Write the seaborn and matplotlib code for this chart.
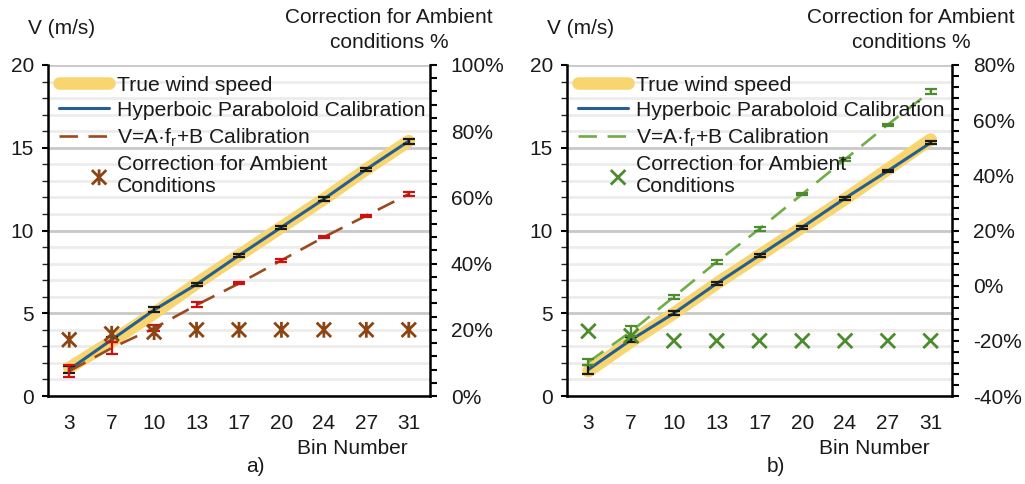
import numpy as np
import pandas as pd
import matplotlib
matplotlib.use("Agg")
import matplotlib.pyplot as plt
import seaborn as sns
from matplotlib.ticker import MultipleLocator, PercentFormatter
from matplotlib.path import Path
from matplotlib.legend_handler import HandlerPathCollection

# ---------------- data ----------------
bins = ['3', '7', '10', '13', '17', '20', '24', '27', '31']

true_a = [1.7, 3.3, 5.0, 6.8, 8.5, 10.2, 11.9, 13.7, 15.4]
hyp_a = [1.6, 3.4, 5.2, 6.75, 8.5, 10.2, 11.9, 13.7, 15.4]
hyp_a_err = [0.2, 0.15, 0.15, 0.1, 0.1, 0.1, 0.1, 0.1, 0.15]
lin_a = [1.5, 2.9, 4.1, 5.5, 6.8, 8.2, 9.6, 10.9, 12.2]
lin_a_err = [0.35, 0.35, 0.2, 0.15, 0.06, 0.1, 0.06, 0.06, 0.12]
corr_a = [17, 18.8, 19.3, 20, 20, 20, 20, 20, 20]

true_b = [1.5, 3.3, 5.0, 6.8, 8.5, 10.2, 11.9, 13.7, 15.5]
hyp_b = [1.6, 3.4, 5.0, 6.8, 8.5, 10.2, 11.95, 13.6, 15.3]
hyp_b_err = [0.25, 0.15, 0.12, 0.1, 0.1, 0.08, 0.08, 0.08, 0.1]
lin_b = [2.05, 3.9, 6.0, 8.1, 10.1, 12.2, 14.3, 16.4, 18.4]
lin_b_err = [0.2, 0.3, 0.12, 0.1, 0.1, 0.08, 0.08, 0.06, 0.15]
corr_b = [-16.5, -18.2, -20, -20, -20, -20, -20, -20, -20]

labels = ['True wind speed', 'Hyperboic Paraboloid Calibration',
          'V=A·f$_\\mathregular{r}$+B Calibration',
          'Correction for Ambient\nConditions']

# ---------------- style ----------------
sns.set_theme(style="white")
plt.rcParams['font.family'] = ['Liberation Sans', 'DejaVu Sans']
plt.rcParams['axes.unicode_minus'] = False
plt.rcParams['mathtext.default'] = 'regular'

FS = 15
LFS = 15.2
YELLOW = '#F8D56E'
BLUE = '#255E91'
TXT = '#1a1a1a'

# Excel-like star marker: an x plus a vertical bar
STAR = Path([(-1, -1), (1, 1), (-1, 1), (1, -1), (0, -1.1), (0, 1.1)],
            [Path.MOVETO, Path.LINETO, Path.MOVETO, Path.LINETO, Path.MOVETO, Path.LINETO])


class RightMarkerHandler(HandlerPathCollection):
    def get_xdata(self, legend, xdescent, ydescent, width, height, fontsize):
        x = [-xdescent + 0.8 * width]
        return x, x


fig = plt.figure(figsize=(10.25, 4.84), dpi=100)
W, H = 1025, 484


def panel(x0, x1, true, hyp, hyp_err, lin, lin_err, corr, lin_color, err_color,
          mk_color, marker, msize, ylim2, tag):
    ax = fig.add_axes([x0 / W, 1 - 396 / H, (x1 - x0) / W, (396 - 65) / H])
    df = pd.DataFrame({'bin': bins, 'true': true, 'hyp': hyp, 'lin': lin, 'corr': corr})

    sns.lineplot(data=df, x='bin', y='true', ax=ax, sort=False, estimator=None,
                 color=YELLOW, lw=9, solid_capstyle='round', label=labels[0], zorder=2)
    sns.lineplot(data=df, x='bin', y='hyp', ax=ax, sort=False, estimator=None,
                 color=BLUE, lw=2.2, label=labels[1], zorder=3)
    sns.lineplot(data=df, x='bin', y='lin', ax=ax, sort=False, estimator=None,
                 color=lin_color, lw=1.9, linestyle=(0, (7, 4)), label=labels[2], zorder=3)
    ax.errorbar(df['bin'], df['hyp'], yerr=hyp_err, fmt='none', ecolor=TXT,
                elinewidth=1.6, capsize=4, capthick=1.6, zorder=4)
    ax.errorbar(df['bin'], df['lin'], yerr=lin_err, fmt='none', ecolor=err_color,
                elinewidth=1.6, capsize=4, capthick=1.6, zorder=4)

    ax.set_ylim(0, 20)
    ax.set_xlim(-0.5, len(bins) - 0.5)
    ax.yaxis.set_major_locator(MultipleLocator(5))
    ax.yaxis.set_minor_locator(MultipleLocator(1))
    ax.grid(which='major', axis='y', color='#c9c9c9', lw=2)
    ax.grid(which='minor', axis='y', color='#ececec', lw=2)
    ax.set_axisbelow(True)
    ax.set_xlabel('')
    ax.set_ylabel('')
    for s in ['top', 'right']:
        ax.spines[s].set_visible(False)
    for s in ['left', 'bottom']:
        ax.spines[s].set_color('black')
        ax.spines[s].set_linewidth(1.8)
    ax.tick_params(axis='y', which='major', left=True, length=4, width=1.5,
                   color='black', labelsize=FS, pad=6, labelcolor=TXT)
    ax.tick_params(axis='y', which='minor', left=False)
    ax.tick_params(axis='x', bottom=False, labelsize=FS, pad=7, labelcolor=TXT)
    ax.legend().remove()

    ax2 = ax.twinx()
    sns.scatterplot(data=df, x='bin', y='corr', ax=ax2, marker=marker, color=mk_color,
                    s=msize, linewidth=2, label=labels[3], zorder=5)
    coll = ax2.collections[0]
    coll.set_facecolor('none')
    coll.set_edgecolor(mk_color)
    coll.set_linewidth(2)
    ax2.set_ylim(*ylim2)
    ax2.yaxis.set_major_locator(MultipleLocator(20))
    ax2.yaxis.set_minor_locator(MultipleLocator(4))
    ax2.yaxis.set_major_formatter(PercentFormatter(xmax=100, decimals=0))
    ax2.set_ylabel('')
    for s in ['top', 'left', 'bottom']:
        ax2.spines[s].set_visible(False)
    ax2.spines['right'].set_color('black')
    ax2.spines['right'].set_linewidth(1.8)
    ax2.tick_params(axis='y', which='both', right=True, length=5, width=1.5,
                    color='black', labelsize=FS, pad=10, labelcolor=TXT)
    ax2.legend().remove()

    h1, l1 = ax.get_legend_handles_labels()
    h2, l2 = ax2.get_legend_handles_labels()
    hmap = {h: RightMarkerHandler() for h in h2}
    leg = ax2.legend(h1 + h2, l1 + l2, loc='upper left', bbox_to_anchor=(0, 1),
                     frameon=False, fontsize=LFS, handlelength=2.4, handletextpad=0.35,
                     labelspacing=0.3, borderaxespad=0.3, borderpad=0.2,
                     handler_map=hmap)
    for t in leg.get_texts():
        t.set_color(TXT)

    cx = (x0 + x1) / 2
    fig.text((x0 - 20) / W, 1 - 28 / H, 'V (m/s)', fontsize=FS, ha='left', va='center',
             color=TXT)
    fig.text((x1 - 41) / W, 1 - 30 / H, 'Correction for Ambient\nconditions %', fontsize=FS,
             ha='center', va='center', color=TXT, linespacing=1.35)
    fig.text((x1 - 22) / W, 1 - 448 / H, 'Bin Number', fontsize=FS, ha='right', va='center',
             color=TXT)
    fig.text((cx + 16) / W, 1 - 467 / H, tag, fontsize=FS, ha='center', va='center',
             color=TXT)
    return ax, ax2


panel(48, 430, true_a, hyp_a, hyp_a_err, lin_a, lin_a_err, corr_a,
      '#9A4A1C', '#D01010', '#8B4513', STAR, 130, (0, 100), 'a)')
panel(567, 952, true_b, hyp_b, hyp_b_err, lin_b, lin_b_err, corr_b,
      '#70AD47', '#4E8A2E', '#4E8A2E', 'x', 110, (-40, 80), 'b)')

fig.savefig('out.png', dpi=100)
